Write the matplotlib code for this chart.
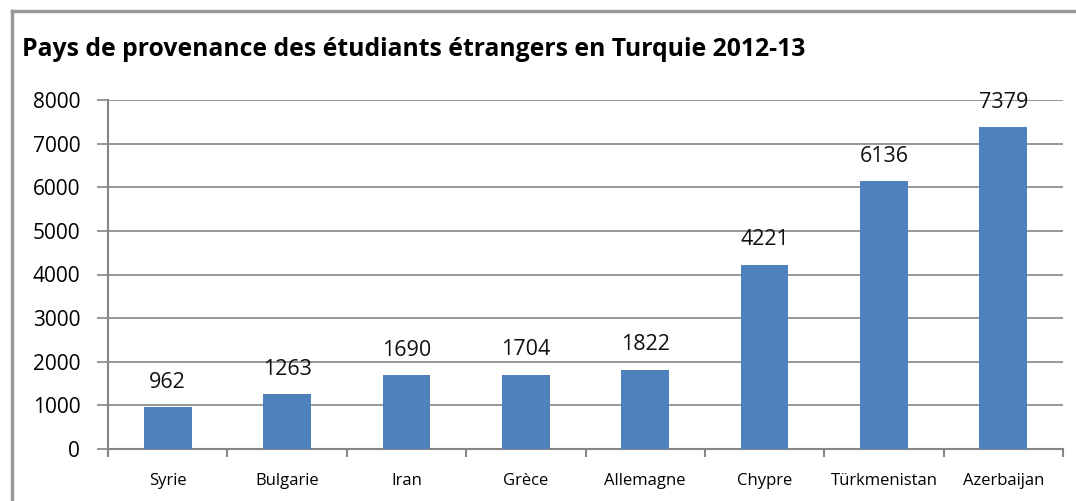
import matplotlib.pyplot as plt
from matplotlib.lines import Line2D
import numpy as np

# data
pays = ['Syrie', 'Bulgarie', 'Iran', 'Grèce', 'Allemagne', 'Chypre', 'Türkmenistan', 'Azerbaijan']
etudiants = [962, 1263, 1690, 1704, 1822, 4221, 6136, 7379]
yticks = [0, 1000, 2000, 3000, 4000, 5000, 6000, 7000, 8000]

plt.rcParams['font.family'] = ['Open Sans', 'DejaVu Sans']
grey = '#868686'

fig = plt.figure(figsize=(10.76, 5.01), dpi=100)
ax = fig.add_axes([108/1076, 1-449/501, (1063-108)/1076, (449-100)/501])

x = np.arange(len(pays))
ax.bar(x, etudiants, width=0.4, color='#4F81BD', zorder=3)
for xi, v in zip(x, etudiants):
    ax.text(xi, v + 330, str(v), ha='center', va='bottom', fontsize=15.5, color='#111111')

ax.set_xlim(-0.5, len(pays) - 0.5)
ax.set_ylim(0, 8000)
ax.set_yticks(yticks)
ax.set_yticklabels([str(t) for t in yticks], fontsize=15)
ax.yaxis.grid(True, color=grey, linewidth=1.2, zorder=0)

# category ticks at boundaries
ax.set_xticks(np.arange(len(pays) + 1) - 0.5)
ax.set_xticklabels([])
ax.set_xticks(x, minor=True)
ax.set_xticklabels(pays, minor=True, fontsize=12)
ax.tick_params(axis='x', which='major', length=6, width=1.5, color=grey, direction='out')
ax.tick_params(axis='x', which='minor', length=0, pad=17)
ax.tick_params(axis='y', length=8, width=1.2, color=grey, pad=12)

for s in ['top', 'right']:
    ax.spines[s].set_visible(False)
for s in ['left', 'bottom']:
    ax.spines[s].set_color(grey)
    ax.spines[s].set_linewidth(1.5)

fig.text(22/1076, 1-50/501, 'Pays de provenance des étudiants étrangers en Turquie 2012-13',
         fontsize=17.8, fontweight='bold', va='center', ha='left')

# chart border
fig.add_artist(Line2D([12/1076, 12/1076], [0, 1-11/501], color='#999999', linewidth=2.5))
fig.add_artist(Line2D([12/1076, 1], [1-11/501, 1-11/501], color='#999999', linewidth=2.5))

fig.savefig('out.png', dpi=100)
